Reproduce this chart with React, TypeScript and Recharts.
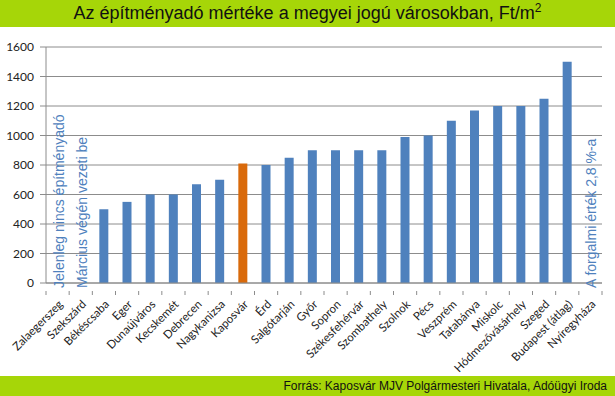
import { BarChart, Bar, XAxis, YAxis, CartesianGrid, Cell } from "recharts";

const cities = [
  "Zalaegerszeg",
  "Szekszárd",
  "Békéscsaba",
  "Eger",
  "Dunaújváros",
  "Kecskemét",
  "Debrecen",
  "Nagykanizsa",
  "Kaposvár",
  "Érd",
  "Salgótarján",
  "Győr",
  "Sopron",
  "Székesfehérvár",
  "Szombathely",
  "Szolnok",
  "Pécs",
  "Veszprém",
  "Tatabánya",
  "Miskolc",
  "Hódmezővásárhely",
  "Szeged",
  "Budapest (átlag)",
  "Nyíregyháza",
];

// Ft/m2
const rates = [0, 0, 500, 550, 600, 600, 670, 700, 810, 800, 850, 900, 900, 900, 900, 990, 1000, 1100, 1170, 1200, 1200, 1250, 1500, 0];

const yTicks = [0, 200, 400, 600, 800, 1000, 1200, 1400, 1600];

const highlightCity = "Kaposvár";

// vertical notes written into the empty slots
const noteCities = ["Zalaegerszeg", "Szekszárd", "Nyíregyháza"];
const noteTexts = ["Jelenleg nincs építményadó", "Március végén vezeti be", "A forgalmi érték 2,8 %-a"];

const W = 615;
const H = 396;
const TITLE_H = 27;
const FOOTER_H = 20;
const LEFT = 46;
const RIGHT = 13;
const STEP = (W - LEFT - RIGHT) / cities.length;

const BLUE = "#4f81bd";
const ORANGE = "#d96a0b";
const GREEN = "#a6d608";
const GRID = "#8c8c8c";
const TICK_FONT = "Lato, 'Open Sans', sans-serif";
const ARIAL = "'Liberation Sans', Arial, sans-serif";

const rows = cities.map((city, i) => ({ city, rate: rates[i] }));

function CityTick(props: any) {
  const { x, y, payload, index } = props;
  const left = x - STEP / 2;
  const last = index === cities.length - 1;
  const k = noteCities.indexOf(payload.value);
  const ax = x + 6;
  const ay = y + 14;
  const ny = y - 3;
  return (
    <g>
      <line x1={left} y1={y} x2={left} y2={y + 4} stroke={GRID} />
      {last && <line x1={x + STEP / 2} y1={y} x2={x + STEP / 2} y2={y + 4} stroke={GRID} />}
      <text
        x={ax}
        y={ay}
        textAnchor="end"
        fontSize={11.5}
        fontFamily={TICK_FONT}
        fill="#222"
        transform={`rotate(-45 ${ax} ${ay})`}
      >
        {payload.value}
      </text>
      {k >= 0 && (
        <text
          x={x + 1}
          y={ny}
          fontSize={14}
          fontFamily={ARIAL}
          fill={BLUE}
          dominantBaseline="central"
          transform={`rotate(-90 ${x + 1} ${ny})`}
        >
          {noteTexts[k]}
        </text>
      )}
    </g>
  );
}

export default function App() {
  return (
    <div style={{ position: "absolute", left: 0, top: 0, width: W, height: H, background: "#fff", overflow: "hidden" }}>
      <div
        style={{
          height: TITLE_H,
          background: GREEN,
          fontFamily: ARIAL,
          fontSize: 18,
          color: "#111",
          textAlign: "center",
          lineHeight: `${TITLE_H}px`,
        }}
      >
        Az építményadó mértéke a megyei jogú városokban, Ft/m<sup style={{ fontSize: 12, lineHeight: 0 }}>2</sup>
      </div>

      <BarChart
        width={W}
        height={H - TITLE_H - FOOTER_H}
        data={rows}
        margin={{ top: 20, right: RIGHT, left: 0, bottom: 0 }}
        barCategoryGap={0}
        style={{ overflow: "visible" }}
      >
        <CartesianGrid vertical={false} stroke={GRID} />
        <XAxis
          dataKey="city"
          interval={0}
          height={H - TITLE_H - FOOTER_H - 256}
          axisLine={{ stroke: GRID }}
          tickLine={false}
          tick={<CityTick />}
        />
        <YAxis
          width={LEFT}
          domain={[0, 1600]}
          ticks={yTicks}
          axisLine={{ stroke: GRID }}
          tickLine={{ stroke: GRID }}
          tickSize={6}
          tickMargin={6}
          tick={{ fontSize: 12, fontFamily: TICK_FONT, fill: "#222" }}
        />
        <Bar dataKey="rate" barSize={9} isAnimationActive={false}>
          {rows.map((r) => (
            <Cell key={r.city} fill={r.city === highlightCity ? ORANGE : BLUE} />
          ))}
        </Bar>
      </BarChart>

      <div
        style={{
          position: "absolute",
          left: 0,
          bottom: 0,
          width: W,
          height: FOOTER_H,
          background: GREEN,
          fontFamily: ARIAL,
          fontSize: 12,
          color: "#111",
          textAlign: "right",
          lineHeight: `${FOOTER_H}px`,
          boxSizing: "border-box",
          paddingRight: 8,
        }}
      >
        Forrás: Kaposvár MJV Polgármesteri Hivatala, Adóügyi Iroda
      </div>
    </div>
  );
}
